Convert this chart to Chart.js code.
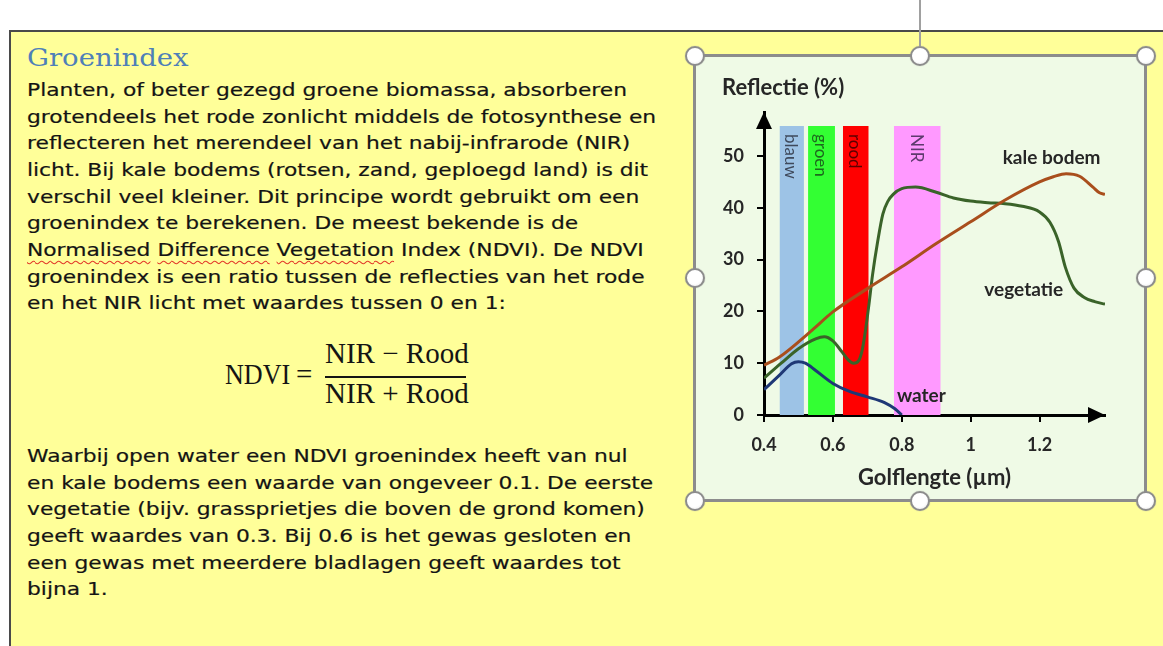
<!DOCTYPE html>
<html>
<head>
<meta charset="utf-8">
<script src="https://cdn.jsdelivr.net/npm/chart.js@4.4.1/dist/chart.umd.min.js"></script>
<style>
  body { margin: 0; width: 1163px; height: 646px; overflow: hidden; background: #fff; position: relative; }
  #box { position: absolute; left: 9px; top: 30px; width: 1200px; height: 700px; background: #ffff99;
         border-top: 2px solid #4a4a4a; border-left: 2px solid #4a4a4a; }
  .txt { position: absolute; left: 27px; font-family: "DejaVu Sans", sans-serif; font-size: 18px; color: #141414;
         line-height: 26.67px; white-space: nowrap; transform: scaleX(1.21); transform-origin: 0 0;
         -webkit-text-stroke: 0.2px #141414; }
  .sq { text-decoration: underline wavy #e23a2a; text-decoration-thickness: 1px; text-underline-offset: 4px; }
  #head { position: absolute; left: 27px; top: 43px; font-family: "DejaVu Serif", serif; font-size: 25px; line-height: 30px;
          color: #4f7fb8; transform: scaleX(1.1); transform-origin: 0 0; }
  .eq { position: absolute; font-family: "Liberation Serif", serif; font-size: 29px; line-height: 32px; color: #141414; white-space: nowrap; }
  #ndvi { transform: scaleX(0.9); transform-origin: 0 0; }
  #bar { position: absolute; left: 325px; top: 376px; width: 141px; height: 2px; background: #141414; }
  #frame { position: absolute; left: 693px; top: 54px; width: 454px; height: 448px; box-sizing: border-box;
           border: 3px solid #8c8c8c; background: #effae6; }
  #wrap { position: absolute; left: 696px; top: 57px; width: 448px; height: 442px; }
  #rot { position: absolute; left: 919px; top: 0; width: 2px; height: 46px; background: #a0a0a0; }
  .h { position: absolute; width: 16px; height: 16px; border-radius: 50%; border: 2px solid #8c8c8c;
       background: radial-gradient(circle at 45% 40%, #ffffff 55%, #e4e4e4); transform: translate(-50%, -50%);
       box-shadow: 0 0 1px #999; }
</style>
</head>
<body>
<div id="box"></div>
<div id="head">Groenindex</div>
<div class="txt" style="top:77px">
  <div>Planten, of beter gezegd groene biomassa, absorberen</div>
  <div>grotendeels het rode zonlicht middels de fotosynthese en</div>
  <div>reflecteren het merendeel van het nabij-infrarode (NIR)</div>
  <div>licht. Bij kale bodems (rotsen, zand, geploegd land) is dit</div>
  <div>verschil veel kleiner. Dit principe wordt gebruikt om een</div>
  <div>groenindex te berekenen. De meest bekende is de</div>
  <div><span class="sq">Normalised</span> <span class="sq">Difference</span> <span class="sq">Vegetation</span> Index (NDVI). De NDVI</div>
  <div>groenindex is een ratio tussen de reflecties van het rode</div>
  <div>en het NIR licht met waardes tussen 0 en 1:</div>
</div>
<div class="eq" id="ndvi" style="left:225px;top:358px">NDVI</div>
<div class="eq" style="left:296px;top:358px">=</div>
<div class="eq" style="left:325px;width:141px;text-align:center;top:337px">NIR − Rood</div>
<div id="bar"></div>
<div class="eq" style="left:325px;width:141px;text-align:center;top:377px">NIR + Rood</div>
<div class="txt" style="top:443px">
  <div>Waarbij open water een NDVI groenindex heeft van nul</div>
  <div>en kale bodems een waarde van ongeveer 0.1. De eerste</div>
  <div>vegetatie (bijv. grassprietjes die boven de grond komen)</div>
  <div>geeft waardes van 0.3. Bij 0.6 is het gewas gesloten en</div>
  <div>een gewas met meerdere bladlagen geeft waardes tot</div>
  <div>bijna 1.</div>
</div>

<div id="rot"></div>
<div id="frame"></div>
<div id="wrap"><canvas id="chart" width="448" height="442"></canvas></div>
<div class="h" style="left:694.5px;top:55.5px"></div>
<div class="h" style="left:920px;top:55.5px"></div>
<div class="h" style="left:1145.5px;top:55.5px"></div>
<div class="h" style="left:694.5px;top:278px"></div>
<div class="h" style="left:1145.5px;top:278px"></div>
<div class="h" style="left:694.5px;top:500.5px"></div>
<div class="h" style="left:920px;top:500.5px"></div>
<div class="h" style="left:1145.5px;top:500.5px"></div>

<script>
// spectral bands (wavelength in µm)
const bandNames = ["blauw", "groen", "rood", "NIR"];
const bandFrom = [0.445, 0.528, 0.629, 0.777];
const bandTo = [0.516, 0.606, 0.704, 0.913];
const bandTop = [55.8, 55.8, 55.8, 55.8];
const bandColors = ["#9dc3e6", "#33ff33", "#ff0000", "#ff99ff"];
const bandTextColors = ["#3f4a5c", "#1d6a1d", "#5c0000", "#5e3a6e"];

// reflectance curves (%)
const soilX = [0.40, 0.445, 0.54, 0.60, 0.70, 0.80, 0.90, 1.00, 1.10, 1.20, 1.24, 1.277, 1.316, 1.355, 1.374, 1.39];
const soilY = [9.6, 11.2, 16.4, 19.9, 24.4, 28.6, 33.1, 37.3, 41.5, 45.0, 46.0, 46.6, 46.1, 44.0, 42.9, 42.6];

const vegX = [0.40, 0.45, 0.50, 0.55, 0.575, 0.60, 0.625, 0.645, 0.66, 0.675, 0.685, 0.695, 0.705, 0.715, 0.73, 0.745,
              0.76, 0.775, 0.80, 0.84, 0.90, 0.95, 1.00, 1.05, 1.10, 1.15, 1.20, 1.23, 1.255, 1.275, 1.30, 1.33, 1.36, 1.39];
const vegY = [7.1, 10.0, 12.8, 14.7, 15.1, 14.3, 12.3, 10.6, 10.0, 10.5, 12.5, 16.5, 21.5, 27.0, 33.5, 38.8,
              41.3, 42.6, 43.7, 44.0, 43.0, 41.9, 41.3, 41.0, 40.8, 40.3, 39.2, 37.2, 33.5, 28.5, 24.5, 22.7, 21.9, 21.4];

const waterX = [0.40, 0.445, 0.48, 0.50, 0.52, 0.55, 0.60, 0.65, 0.70, 0.75, 0.78, 0.80];
const waterY = [4.9, 7.7, 9.9, 10.3, 10.0, 8.6, 6.1, 4.5, 3.5, 2.4, 1.2, 0];

const curveNames = ["kale bodem", "vegetatie", "water"];
const xTicks = [0.4, 0.6, 0.8, 1, 1.2];
const yTicks = [0, 10, 20, 30, 40, 50];

function pts(xs, ys) { return xs.map((x, i) => ({ x: x, y: ys[i] })); }

const curveSets = [
  { label: curveNames[0], data: pts(soilX, soilY), borderColor: "#a94e1c" },
  { label: curveNames[1], data: pts(vegX, vegY), borderColor: "#3a6329" },
  { label: curveNames[2], data: pts(waterX, waterY), borderColor: "#1f3876" }
].map(d => Object.assign(d, { borderWidth: 3, pointRadius: 0, fill: false, cubicInterpolationMode: "monotone", order: 1 }));

const bandSets = bandNames.map((n, i) => ({
  label: n,
  data: [{ x: bandFrom[i], y: bandTop[i] }, { x: bandTo[i], y: bandTop[i] }],
  backgroundColor: bandColors[i],
  borderColor: "rgba(0,0,0,0)",
  borderWidth: 0,
  pointRadius: 0,
  tension: 0,
  fill: "origin",
  order: 2
}));

const labelSpots = { x: [1.235, 1.154, 0.857], y: [49.6, 24.1, 3.7] };

const annotate = {
  id: "annotate",
  afterDatasetsDraw(chart) {
    const { ctx, scales: { x, y } } = chart;
    ctx.save();
    ctx.font = "17px Lato";
    ctx.textAlign = "left";
    ctx.textBaseline = "middle";
    bandNames.forEach((n, i) => {
      const cx = (x.getPixelForValue(bandFrom[i]) + x.getPixelForValue(bandTo[i])) / 2;
      const cy = y.getPixelForValue(bandTop[i]) + 8;
      ctx.save();
      ctx.translate(cx, cy);
      ctx.rotate(Math.PI / 2);
      ctx.fillStyle = bandTextColors[i];
      ctx.fillText(n, 0, 1);
      ctx.restore();
    });
    ctx.font = "bold 19px Lato";
    ctx.fillStyle = "#262626";
    ctx.textAlign = "center";
    curveNames.forEach((n, i) => {
      ctx.fillText(n, x.getPixelForValue(labelSpots.x[i]), y.getPixelForValue(labelSpots.y[i]));
    });
    ctx.restore();
  },
  afterDraw(chart) {
    const { ctx, chartArea: a } = chart;
    ctx.save();
    ctx.fillStyle = "#000";
    ctx.beginPath();
    ctx.moveTo(a.left, a.top);
    ctx.lineTo(a.left - 8, a.top + 17);
    ctx.lineTo(a.left + 8, a.top + 17);
    ctx.closePath();
    ctx.fill();
    ctx.beginPath();
    ctx.moveTo(a.right, a.bottom);
    ctx.lineTo(a.right - 17, a.bottom - 8);
    ctx.lineTo(a.right - 17, a.bottom + 8);
    ctx.closePath();
    ctx.fill();
    ctx.font = "bold 22px Lato";
    ctx.fillStyle = "#262626";
    ctx.textAlign = "left";
    ctx.textBaseline = "middle";
    ctx.fillText("Reflectie (%)", a.left - 42, a.top - 24);
    ctx.restore();
  }
};

const axisGrid = { drawOnChartArea: false, drawTicks: true, tickLength: 7, color: "#000", lineWidth: 2 };
const tickFont = { family: "Lato", size: 18, weight: "bold" };

new Chart(document.getElementById("chart"), {
  type: "line",
  data: { datasets: curveSets.concat(bandSets) },
  options: {
    responsive: false,
    animation: false,
    layout: { padding: { left: 0, top: 55, right: 39, bottom: 0 } },
    plugins: { legend: { display: false }, tooltip: { enabled: false } },
    scales: {
      x: {
        type: "linear", min: 0.4, max: 1.39, z: 1,
        afterBuildTicks: s => { s.ticks = xTicks.map(v => ({ value: v })); },
        afterFit: s => { s.height = 84; },
        grid: axisGrid,
        border: { display: true, color: "#000", width: 3 },
        ticks: { font: tickFont, color: "#262626", padding: 12, maxRotation: 0, autoSkip: false,
                 callback: v => String(Math.round(v * 10) / 10) },
        title: { display: true, text: "Golflengte (µm)", font: { family: "Lato", size: 22, weight: "bold" },
                 color: "#262626", padding: { top: 0, bottom: 8 } }
      },
      y: {
        min: 0, max: 58.5, z: 1,
        afterBuildTicks: s => { s.ticks = yTicks.map(v => ({ value: v })); },
        afterFit: s => { s.width = 68; },
        grid: axisGrid,
        border: { display: true, color: "#000", width: 3 },
        ticks: { font: tickFont, color: "#262626", padding: 13, autoSkip: false }
      }
    }
  },
  plugins: [annotate]
});
</script>
</body>
</html>
